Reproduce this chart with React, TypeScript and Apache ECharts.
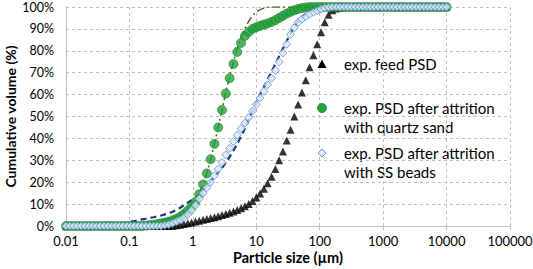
import React, { useEffect, useRef } from "react";
import * as echarts from "echarts";

// Instrument size classes (µm)
const sizeBins = [
  0.01, 0.0115, 0.0132, 0.0151, 0.0174, 0.02, 0.0229, 0.0263, 0.0302, 0.0347,
  0.0398, 0.0457, 0.0525, 0.0603, 0.0692, 0.0794, 0.0912, 0.105, 0.12, 0.138,
  0.158, 0.182, 0.209, 0.24, 0.275, 0.316, 0.363, 0.417, 0.479, 0.55,
  0.631, 0.724, 0.832, 0.955, 1.1, 1.26, 1.45, 1.66, 1.91, 2.19,
  2.51, 2.88, 3.31, 3.8, 4.37, 5.01, 5.75, 6.61, 7.59, 8.71,
  10, 11.5, 13.2, 15.1, 17.4, 20, 22.9, 26.3, 30.2, 34.7,
  39.8, 45.7, 52.5, 60.3, 69.2, 79.4, 91.2, 105, 120, 138,
  158, 182, 209, 240, 275, 316, 363, 417, 479, 550,
  631, 724, 832, 955, 1100, 1260, 1450, 1660, 1910, 2190,
  2510, 2880, 3310, 3800, 4370, 5010, 5750, 6610, 7590, 8710,
  10000,
];

// Cumulative volume (%)
const feedPSD = [
  0, 0, 0, 0, 0, 0, 0, 0, 0, 0,
  0, 0, 0, 0, 0, 0, 0, 0, 0, 0,
  0, 0, 0, 0, 0, 0, 0, 0, 0, 0.3,
  0.6, 0.9, 1.2, 1.6, 2.0, 2.4, 2.8, 3.2, 3.6, 4.0,
  4.5, 5.0, 5.5, 6.0, 6.6, 7.3, 8.1, 9.0, 10.1, 11.4,
  13.0, 14.8, 17, 19.5, 22.5, 26, 30, 34, 39, 44,
  50, 55.5, 61, 66.5, 72.5, 78, 83, 88.5, 93, 96.5,
  98.5, 99.3, 99.8, 100, 100, 100, 100, 100, 100, 100,
  100, 100, 100, 100, 100, 100, 100, 100, 100, 100,
  100, 100, 100, 100, 100, 100, 100, 100, 100, 100,
  100,
];

const quartzPSD = [
  0, 0, 0, 0, 0, 0, 0, 0, 0, 0,
  0, 0, 0, 0, 0, 0, 0, 0, 0, 0,
  0, 0.2, 0.4, 0.6, 0.9, 1.2, 1.6, 2.0, 2.6, 3.3,
  4.2, 5.5, 7.0, 8.8, 11, 14.5, 19, 24, 30.5, 37.5,
  45, 53, 60.5, 67.5, 74, 79.5, 83.6, 86.8, 88.6, 90,
  90.8, 91.4, 92, 92.5, 93.2, 94, 95, 96, 97, 97.8,
  98.5, 99.1, 99.5, 99.8, 100, 100, 100, 100, 100, 100,
  100, 100, 100, 100, 100, 100, 100, 100, 100, 100,
  100, 100, 100, 100, 100, 100, 100, 100, 100, 100,
  100, 100, 100, 100, 100, 100, 100, 100, 100, 100,
  100,
];

const ssBeadsPSD = [
  0, 0, 0, 0, 0, 0, 0, 0, 0, 0,
  0, 0, 0, 0, 0, 0, 0, 0, 0, 0,
  0, 0, 0, 0, 0, 0, 0.3, 0.7, 1.3, 2.0,
  2.8, 3.8, 5.2, 7.2, 9.5, 12.5, 15, 17.5, 20, 23,
  26, 29, 32.5, 35.5, 38.5, 41.5, 44.5, 47, 49.5, 52.5,
  55.5, 58.5, 61.5, 64.5, 67.5, 71, 75, 79, 83, 87.5,
  90.5, 93, 94.5, 95.6, 96.7, 97.6, 98.3, 99.1, 99.6, 99.9,
  100, 100, 100, 100, 100, 100, 100, 100, 100, 100,
  100, 100, 100, 100, 100, 100, 100, 100, 100, 100,
  100, 100, 100, 100, 100, 100, 100, 100, 100, 100,
  100,
];

const quartzModel = [
  null, null, null, null, null, null, null, null, null, null,
  null, null, null, null, null, null, null, 0.3, 0.5, 0.7,
  0.9, 1.1, 1.4, 1.7, 2.0, 2.4, 2.8, 3.3, 3.9, 4.6,
  5.5, 6.6, 8.0, 9.8, 12, 15, 19, 24, 30.5, 37.5,
  45, 53, 61, 68.5, 75, 81, 86, 90, 93.5, 96,
  97.8, 98.8, 99.5, 99.9, 100, 100, 100, 100, 100, 100,
  100, 100, 100, 100, 100, 100, 100, 100, 100, 100,
  100, 100, 100, 100, 100, 100, 100, 100, 100, 100,
  100, 100, 100, 100, 100, 100, 100, 100, 100, 100,
  100, 100, 100, 100, 100, 100, 100, 100, 100, 100,
  100,
];

const ssBeadsModel = [
  null, null, null, null, null, null, null, null, null, null,
  null, null, null, null, null, null, null, 2.0, 2.3, 2.7,
  3.0, 3.3, 3.7, 4.0, 4.4, 4.8, 5.3, 5.8, 6.5, 7.3,
  8.3, 9.5, 10.7, 11.8, 13, 14.5, 16.5, 18.5, 20.5, 22.5,
  24.5, 26.5, 29, 31.5, 34.5, 37.5, 41, 44.5, 48.5, 52.5,
  56.5, 60, 63.5, 67, 70.5, 74, 77.5, 81, 84.5, 88,
  91, 93.5, 95.5, 97, 98.2, 99, 99.6, 100, 100, 100,
  100, 100, 100, 100, 100, 100, 100, 100, 100, 100,
  100, 100, 100, 100, 100, 100, 100, 100, 100, 100,
  100, 100, 100, 100, 100, 100, 100, 100, 100, 100,
  100,
];

const xTickLabels = ["0.01", "0.1", "1", "10", "100", "1000", "10000", "100000"];

const seriesNames = [
  "exp. feed PSD",
  "exp. PSD after attrition\nwith quartz sand",
  "exp. PSD after attrition\nwith SS beads",
];

const pairs = (ys: (number | null)[]) =>
  ys.map((y, i) => [sizeBins[i], y]).filter((p) => p[1] !== null);

const FONT = "Lato";
const GREEN = "#22a338";
const GREEN_EDGE = "#1b7a2c";
const DIAMOND_FILL = "#dce9f8";
const DIAMOND_EDGE = "#5b8fd6";

export default function App() {
  const ref = useRef<HTMLDivElement>(null);
  useEffect(() => {
    document.body.style.margin = "0";
    if (!ref.current) return;
    const chart = echarts.init(ref.current, null, { renderer: "svg" });

    const legendText = (text: string, y: number) => ({
      type: "text",
      x: 344,
      y,
      style: {
        text,
        fontFamily: FONT,
        fontSize: 15,
        lineHeight: 19,
        fill: "#000",
        verticalAlign: "top",
        align: "left",
      },
    });

    chart.setOption({
      animation: false,
      textStyle: { fontFamily: FONT },
      grid: { left: 66, right: 23, top: 7, bottom: 43, outerBoundsMode: "none", containLabel: false },
      xAxis: {
        type: "log",
        logBase: 10,
        min: 0.01,
        max: 100000,
        name: "Particle size (µm)",
        nameLocation: "middle",
        nameGap: 24,
        nameMoveOverlap: false,
        nameTextStyle: { fontFamily: FONT, fontWeight: "bold", fontSize: 14.5, color: "#000" },
        axisLine: { show: true, lineStyle: { color: "#bfbfbf", width: 1 } },
        axisTick: { show: true, length: 4, lineStyle: { color: "#bfbfbf" } },
        minorTick: { show: false },
        axisLabel: {
          fontFamily: FONT,
          fontSize: 13,
          color: "#000",
          margin: 8,
          formatter: (v: number) => xTickLabels[Math.round(Math.log10(v)) + 2] ?? "",
        },
        splitLine: { show: true, lineStyle: { color: "#bfbfbf", type: [3, 3], width: 1 } },
      },
      yAxis: {
        type: "value",
        min: 0,
        max: 100,
        interval: 10,
        name: "Cumulative volume (%)",
        nameLocation: "middle",
        nameGap: 48,
        nameMoveOverlap: false,
        nameTextStyle: { fontFamily: FONT, fontWeight: "bold", fontSize: 14, lineHeight: 16, color: "#000" },
        axisLine: { show: true, lineStyle: { color: "#bfbfbf", width: 1 } },
        axisTick: { show: false },
        axisLabel: {
          fontFamily: FONT,
          fontSize: 12.5,
          lineHeight: 12,
          color: "#000",
          margin: 12,
          formatter: "{value}%",
        },
        splitLine: { show: true, lineStyle: { color: "#bfbfbf", type: [3, 3], width: 1 } },
      },
      graphic: [
        {
          type: "polygon",
          shape: { points: [[322, 59.5], [326.5, 68], [317.5, 68]] },
          style: { fill: "#000" },
          z: 100,
        },
        legendText(seriesNames[0], 54.5),
        {
          type: "circle",
          shape: { cx: 322, cy: 108, r: 4.5 },
          style: { fill: GREEN, stroke: GREEN_EDGE, lineWidth: 0.8 },
          z: 100,
        },
        legendText(seriesNames[1], 98.5),
        {
          type: "polygon",
          shape: { points: [[322, 149], [326, 153], [322, 157], [318, 153]] },
          style: { fill: DIAMOND_FILL, stroke: DIAMOND_EDGE, lineWidth: 1 },
          z: 100,
        },
        legendText(seriesNames[2], 143.5),
      ],
      series: [
        {
          name: "model SS beads",
          type: "line",
          data: pairs(ssBeadsModel),
          showSymbol: false,
          lineStyle: { color: "#1f3470", width: 2.2, type: [6, 4] },
          z: 2,
        },
        {
          name: "model quartz sand",
          type: "line",
          data: pairs(quartzModel),
          showSymbol: false,
          lineStyle: { color: "#3f6f25", width: 1.5, type: [8, 3, 2, 3] },
          z: 2,
        },
        {
          name: seriesNames[0],
          type: "scatter",
          data: pairs(feedPSD),
          symbol: "triangle",
          symbolSize: 8,
          itemStyle: { color: "#000" },
          z: 3,
        },
        {
          name: seriesNames[1],
          type: "scatter",
          data: pairs(quartzPSD),
          symbol: "circle",
          symbolSize: 9,
          itemStyle: { color: GREEN, borderColor: GREEN_EDGE, borderWidth: 0.8 },
          z: 4,
        },
        {
          name: seriesNames[2],
          type: "scatter",
          data: pairs(ssBeadsPSD),
          symbol: "diamond",
          symbolSize: 8,
          itemStyle: { color: DIAMOND_FILL, borderColor: DIAMOND_EDGE, borderWidth: 1 },
          z: 5,
        },
      ],
    });
    return () => chart.dispose();
  }, []);
  return (
    <div
      ref={ref}
      style={{ position: "absolute", left: 0, top: 0, width: 533, height: 269 }}
    />
  );
}
